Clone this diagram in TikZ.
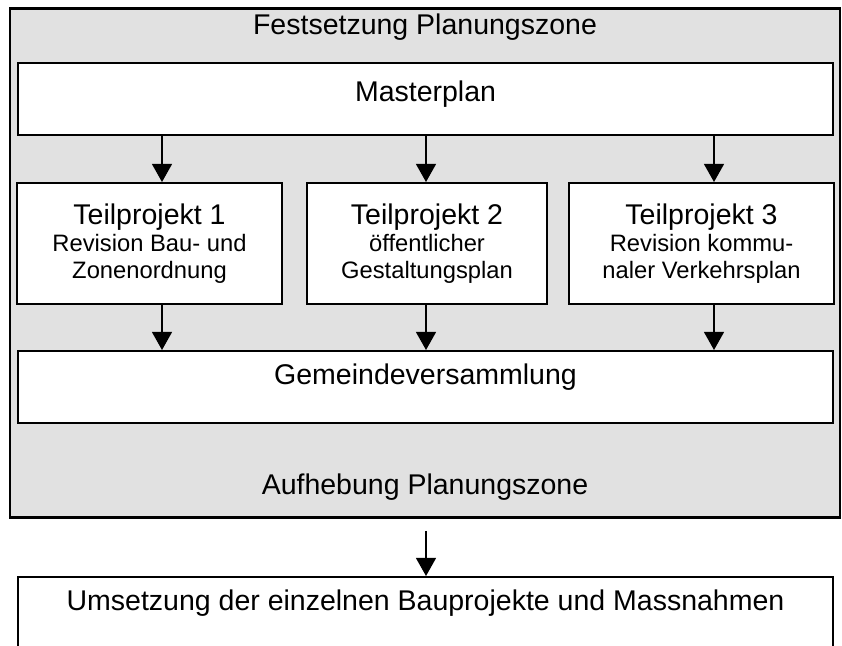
\documentclass[tikz,border=0pt]{standalone}
\usepackage{fontspec}
\setmainfont{Liberation Sans}
\usepackage{tikz}
\usetikzlibrary{positioning,arrows.meta,calc}
\usepackage{xcolor}
\definecolor{zonegray}{RGB}{225,225,225}

\begin{document}
\begin{tikzpicture}[x=0.421pt,y=-0.421pt,font=\fontsize{12}{14}\selectfont,
  widebox/.style={rectangle,draw,fill=white,line width=0.85pt,minimum width=343.5pt,inner ysep=0pt,anchor=north},
  tpbox/.style={rectangle,draw,fill=white,line width=0.85pt,minimum height=50.9pt,inner ysep=0pt,align=center,anchor=north,font=\fontsize{10}{11.5}\selectfont},
  flow/.style={line width=0.6pt,-{Triangle[length=7.6pt,width=8.4pt]}}]
\useasboundingbox (0,0) rectangle (842,646);
\node[rectangle,draw,fill=zonegray,line width=1.2pt,minimum width=349.4pt,minimum height=214.3pt,anchor=north] (zone) at (425,7) {};
\node[anchor=base] (festsetzung) at (425,35) {Festsetzung Planungszone};
\node[anchor=base] (aufhebung) at (425,494) {Aufhebung Planungszone};

\node[widebox,text height=16pt,text depth=14.3pt] (master) at (425.5,62) {Masterplan};
\node[tpbox,minimum width=111.6pt] (tp1) at (149.5,182) {{\fontsize{12}{14}\selectfont Teilprojekt 1}\\Revision Bau- und\\Zonenordnung};
\node[tpbox,minimum width=101pt] (tp2) at (427,182) {{\fontsize{12}{14}\selectfont Teilprojekt 2}\\öffentlicher\\Gestaltungsplan};
\node[tpbox,minimum width=111.6pt] (tp3) at (701.5,182) {{\fontsize{12}{14}\selectfont Teilprojekt 3}\\Revision kommu-\\naler Verkehrsplan};
\node[widebox,text height=14.3pt,text depth=16pt] (gemeinde) at (425.5,350) {Gemeindeversammlung};
\node[widebox,text height=14.3pt,text depth=17.7pt] (umsetzung) at (425.5,576) {Umsetzung der einzelnen Bauprojekte und Massnahmen};

\coordinate (col1) at (162,0);
\coordinate (col2) at (426,0);
\coordinate (col3) at (714,0);
\coordinate (zoneout) at ($(zone.south -| col2)+(0,12)$);

\draw[flow] (master.south -| col1) -- (tp1.north -| col1);
\draw[flow] (master.south -| col2) -- (tp2.north -| col2);
\draw[flow] (master.south -| col3) -- (tp3.north -| col3);
\draw[flow] (tp1.south -| col1) -- (gemeinde.north -| col1);
\draw[flow] (tp2.south -| col2) -- (gemeinde.north -| col2);
\draw[flow] (tp3.south -| col3) -- (gemeinde.north -| col3);
\draw[flow] (zoneout) -- (umsetzung.north -| col2);
\end{tikzpicture}
\end{document}
